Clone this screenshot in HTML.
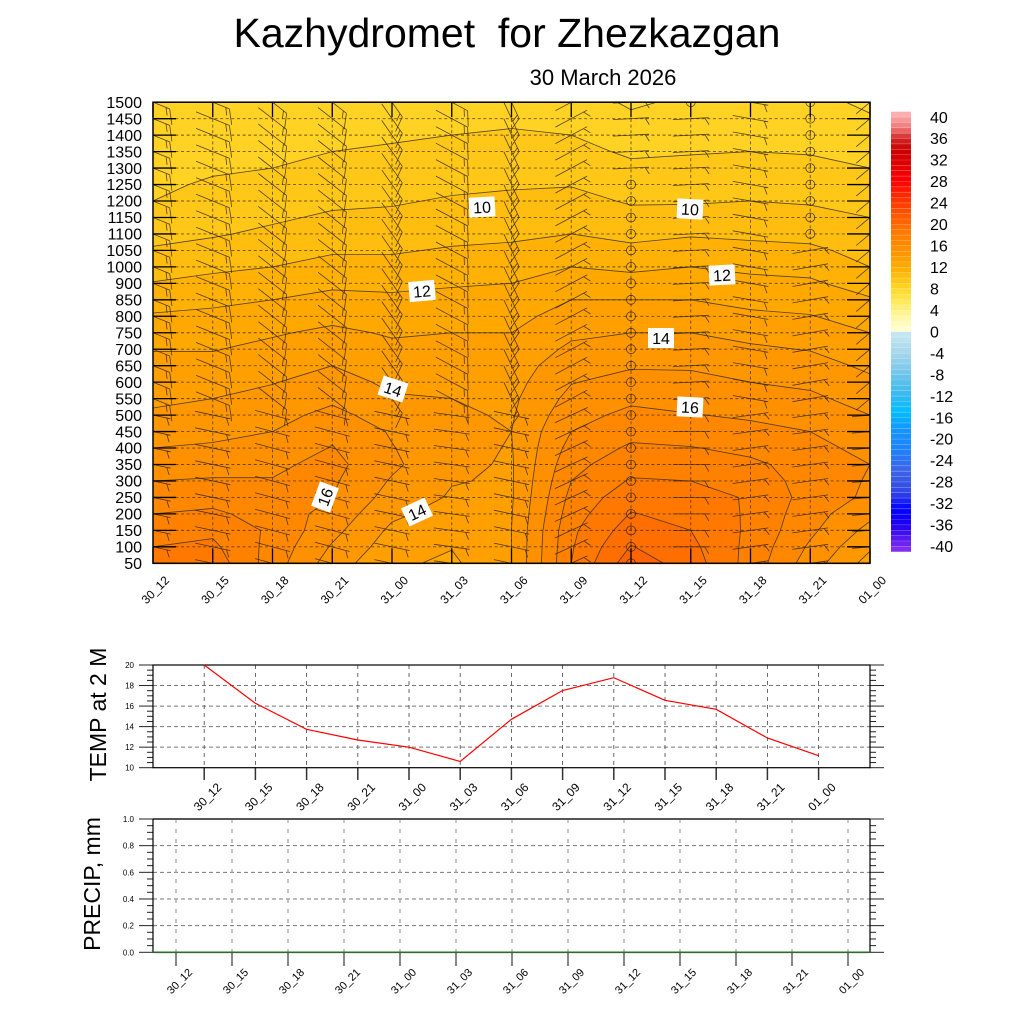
<!DOCTYPE html>
<html><head><meta charset="utf-8">
<style>
html,body{margin:0;padding:0;background:#fff;}
#wrap{position:relative;width:1024px;height:1024px;overflow:hidden;background:#fff;}
canvas,svg{position:absolute;left:0;top:0;}
text{font-family:"Liberation Sans",Arial,sans-serif;fill:#000;}
</style></head><body>
<div id="wrap">
<canvas id="cv" width="1024" height="1024"></canvas>
<svg id="sv" width="1024" height="1024" viewBox="0 0 1024 1024">
<defs><clipPath id="cp"><rect x="153" y="102.2" width="717" height="461.1"/></clipPath></defs>
<g id="cbar"></g>
<g id="grid" clip-path="url(#cp)"></g>
<g id="cont" clip-path="url(#cp)"></g>
<g id="barbs" clip-path="url(#cp)"></g>
<g id="axes"></g>

<!-- contour labels -->
<g font-size="16">
<g transform="translate(482,207) rotate(-3)"><rect x="-13" y="-10" width="26" height="20" fill="#fff"/><text x="0" y="6" text-anchor="middle">10</text></g>
<g transform="translate(690,209) rotate(3)"><rect x="-13" y="-10" width="26" height="20" fill="#fff"/><text x="0" y="6" text-anchor="middle">10</text></g>
<g transform="translate(422,291) rotate(-5)"><rect x="-13" y="-10" width="26" height="20" fill="#fff"/><text x="0" y="6" text-anchor="middle">12</text></g>
<g transform="translate(722,275) rotate(-3)"><rect x="-13" y="-10" width="26" height="20" fill="#fff"/><text x="0" y="6" text-anchor="middle">12</text></g>
<g transform="translate(661,338)"><rect x="-13" y="-10" width="26" height="20" fill="#fff"/><text x="0" y="6" text-anchor="middle">14</text></g>
<g transform="translate(393,389) rotate(18)"><rect x="-13" y="-10" width="26" height="20" fill="#fff"/><text x="0" y="6" text-anchor="middle">14</text></g>
<g transform="translate(690,407) rotate(3)"><rect x="-13" y="-10" width="26" height="20" fill="#fff"/><text x="0" y="6" text-anchor="middle">16</text></g>
<g transform="translate(325,497) rotate(-70)"><rect x="-13" y="-10" width="26" height="20" fill="#fff"/><text x="0" y="6" text-anchor="middle">16</text></g>
<g transform="translate(417,512) rotate(-25)"><rect x="-13" y="-10" width="26" height="20" fill="#fff"/><text x="0" y="6" text-anchor="middle">14</text></g>
</g>

<!-- titles -->
<text x="507" y="47" font-size="41" text-anchor="middle" style="white-space:pre">Kazhydromet  for Zhezkazgan</text>
<text x="603" y="85" font-size="22" text-anchor="middle">30 March 2026</text>

<!-- main y labels -->
<g font-size="16" text-anchor="end">
<text x="142" y="569.0">50</text>
<text x="142" y="552.5">100</text>
<text x="142" y="536.1">150</text>
<text x="142" y="519.6">200</text>
<text x="142" y="503.1">250</text>
<text x="142" y="486.7">300</text>
<text x="142" y="470.2">350</text>
<text x="142" y="453.7">400</text>
<text x="142" y="437.3">450</text>
<text x="142" y="420.8">500</text>
<text x="142" y="404.3">550</text>
<text x="142" y="387.9">600</text>
<text x="142" y="371.4">650</text>
<text x="142" y="354.9">700</text>
<text x="142" y="338.4">750</text>
<text x="142" y="322.0">800</text>
<text x="142" y="305.5">850</text>
<text x="142" y="289.0">900</text>
<text x="142" y="272.6">1000</text>
<text x="142" y="256.1">1050</text>
<text x="142" y="239.6">1100</text>
<text x="142" y="223.2">1150</text>
<text x="142" y="206.7">1200</text>
<text x="142" y="190.2">1250</text>
<text x="142" y="173.8">1300</text>
<text x="142" y="157.3">1350</text>
<text x="142" y="140.8">1400</text>
<text x="142" y="124.3">1450</text>
<text x="142" y="107.9">1500</text>
</g>

<!-- main x labels -->
<g font-size="12" text-anchor="end">
<text transform="translate(170,581) rotate(-45)">30_12</text>
<text transform="translate(229.75,581) rotate(-45)">30_15</text>
<text transform="translate(289.5,581) rotate(-45)">30_18</text>
<text transform="translate(349.25,581) rotate(-45)">30_21</text>
<text transform="translate(409,581) rotate(-45)">31_00</text>
<text transform="translate(468.75,581) rotate(-45)">31_03</text>
<text transform="translate(528.5,581) rotate(-45)">31_06</text>
<text transform="translate(588.25,581) rotate(-45)">31_09</text>
<text transform="translate(648,581) rotate(-45)">31_12</text>
<text transform="translate(707.75,581) rotate(-45)">31_15</text>
<text transform="translate(767.5,581) rotate(-45)">31_18</text>
<text transform="translate(827.25,581) rotate(-45)">31_21</text>
<text transform="translate(887,581) rotate(-45)">01_00</text>
</g>

<!-- colorbar labels -->
<g font-size="16">
<text x="930" y="122.8">40</text>
<text x="930" y="144.2">36</text>
<text x="930" y="165.7">32</text>
<text x="930" y="187.2">28</text>
<text x="930" y="208.6">24</text>
<text x="930" y="230.1">20</text>
<text x="930" y="251.5">16</text>
<text x="930" y="273.0">12</text>
<text x="930" y="294.5">8</text>
<text x="930" y="315.9">4</text>
<text x="930" y="337.4">0</text>
<text x="930" y="358.9">-4</text>
<text x="930" y="380.3">-8</text>
<text x="930" y="401.8">-12</text>
<text x="930" y="423.3">-16</text>
<text x="930" y="444.7">-20</text>
<text x="930" y="466.2">-24</text>
<text x="930" y="487.6">-28</text>
<text x="930" y="509.1">-32</text>
<text x="930" y="530.6">-36</text>
<text x="930" y="552.0">-40</text>
</g>

<!-- temp chart -->
<g id="tchart"></g>
<polyline fill="none" stroke="#ff0000" stroke-width="1.2" points="204.2,665 255.4,703.3 306.6,729.3 357.8,740 409,747.2 460.2,761.5 511.4,719.3 562.6,690.5 613.8,677.7 665,700.3 716.2,709.3 767.4,738 818.6,755.7"/>
<g font-size="8" text-anchor="end">
<text x="134" y="770.7">10</text>
<text x="134" y="750.2">12</text>
<text x="134" y="729.6">14</text>
<text x="134" y="709.1">16</text>
<text x="134" y="688.5">18</text>
<text x="134" y="668">20</text>
</g>
<g font-size="12" text-anchor="end">
<text transform="translate(222.2,788) rotate(-45)">30_12</text>
<text transform="translate(273.4,788) rotate(-45)">30_15</text>
<text transform="translate(324.6,788) rotate(-45)">30_18</text>
<text transform="translate(375.8,788) rotate(-45)">30_21</text>
<text transform="translate(427,788) rotate(-45)">31_00</text>
<text transform="translate(478.2,788) rotate(-45)">31_03</text>
<text transform="translate(529.4,788) rotate(-45)">31_06</text>
<text transform="translate(580.6,788) rotate(-45)">31_09</text>
<text transform="translate(631.8,788) rotate(-45)">31_12</text>
<text transform="translate(683,788) rotate(-45)">31_15</text>
<text transform="translate(734.2,788) rotate(-45)">31_18</text>
<text transform="translate(785.4,788) rotate(-45)">31_21</text>
<text transform="translate(836.6,788) rotate(-45)">01_00</text>
</g>
<text transform="translate(106,714.5) rotate(-90)" font-size="23" text-anchor="middle">TEMP at 2 M</text>

<!-- precip chart -->
<g id="pchart"></g>
<g font-size="8" text-anchor="end">
<text x="134" y="955.3">0.0</text>
<text x="134" y="928.6">0.2</text>
<text x="134" y="902">0.4</text>
<text x="134" y="875.3">0.6</text>
<text x="134" y="848.7">0.8</text>
<text x="134" y="822">1.0</text>
</g>
<g font-size="11" text-anchor="end">
<text transform="translate(193,973) rotate(-45)">30_12</text>
<text transform="translate(249,973) rotate(-45)">30_15</text>
<text transform="translate(305,973) rotate(-45)">30_18</text>
<text transform="translate(361,973) rotate(-45)">30_21</text>
<text transform="translate(417,973) rotate(-45)">31_00</text>
<text transform="translate(473,973) rotate(-45)">31_03</text>
<text transform="translate(529,973) rotate(-45)">31_06</text>
<text transform="translate(585,973) rotate(-45)">31_09</text>
<text transform="translate(641,973) rotate(-45)">31_12</text>
<text transform="translate(697,973) rotate(-45)">31_15</text>
<text transform="translate(753,973) rotate(-45)">31_18</text>
<text transform="translate(809,973) rotate(-45)">31_21</text>
<text transform="translate(865,973) rotate(-45)">01_00</text>
</g>
<text transform="translate(100,884) rotate(-90)" font-size="23" text-anchor="middle">PRECIP, mm</text>
</svg>
</div>
<script>
(function(){
const X0=153,X1=870,Y0=102.2,Y1=563.3;
const DX=(X1-X0)/12,DY=(Y1-Y0)/28;
const prof=[
[18.5,17.5,16.5,15.5,14.5,13.8,13.3,12.6,11.6,10.5,9.7,9.0,8.7,8.4,8.1],
[18.6,17.8,16.6,15.6,14.7,14.0,13.3,12.6,11.8,10.8,9.9,9.3,8.9,8.6,8.3],
[16.5,16.8,16.3,15.8,15.0,14.3,13.6,12.9,12.0,11.0,10.2,9.5,9.0,8.7,8.4],
[14.5,15.3,16.0,16.3,15.8,14.8,14.0,13.2,12.3,11.3,10.5,9.8,9.2,8.8,8.5],
[13.2,13.8,14.6,15.2,14.9,14.1,13.5,12.9,12.2,11.3,10.5,9.9,9.3,8.9,8.5],
[12.8,13.3,13.9,14.2,14.3,14.0,13.6,13.0,12.3,11.5,10.7,10.1,9.5,9.0,8.6],
[14.0,14.0,13.9,13.9,14.0,13.8,13.5,13.0,12.4,11.6,10.8,10.2,9.6,9.1,8.6],
[18.0,17.8,17.3,16.7,16.0,15.3,14.6,13.8,13.0,12.0,11.0,10.3,9.6,9.0,8.5],
[20.6,19.5,18.6,17.6,16.7,15.8,14.9,14.0,13.0,11.8,10.7,9.9,9.2,8.5,7.85],
[19.5,19.0,18.4,17.6,16.5,15.6,14.9,14.0,13.0,12.0,10.9,9.9,9.2,8.7,8.2],
[17.6,17.8,17.9,17.2,16.3,15.4,14.6,13.7,12.7,11.8,10.8,10.0,9.3,8.7,8.3],
[15.5,16.2,16.6,16.6,16.0,15.2,14.4,13.5,12.6,11.7,10.7,9.9,9.2,8.7,8.3],
[13.6,14.7,15.8,16.0,15.4,14.6,13.8,13.0,12.1,11.0,10.3,9.7,9.0,8.4,7.8]];
const T=[];
for(let i=0;i<13;i++){T.push([]);for(let k=0;k<=28;k++){const j=k/2,lo=Math.floor(j),hi=Math.min(14,lo+1),f=j-lo;T[i].push(prof[i][lo]*(1-f)+prof[i][hi]*f);}}
const pos=[[0,255,255,215],[2,255,250,180],[4,255,242,135],[6,255,230,80],[8,255,215,40],[10,255,195,20],[12,255,172,0],[14,255,155,0],[18,255,125,0],[22,255,85,0],[25,255,45,0],[28,255,0,0],[31,225,0,0],[34,200,0,0],[36,210,40,40],[38,240,120,120],[41,255,185,185]];
const neg=[[-41,140,50,240],[-36,30,0,240],[-33,0,0,255],[-30,50,70,230],[-26,60,100,230],[-22,30,130,250],[-18,20,150,255],[-15,0,190,255],[-12,50,185,240],[-8,110,195,235],[-4,165,215,235],[0,200,232,245]];
function interp(st,t){if(t<=st[0][0])return st[0].slice(1);for(let j=1;j<st.length;j++){if(t<=st[j][0]){const a=st[j-1],b=st[j];const f=(t-a[0])/(b[0]-a[0]);return [0,1,2].map(c=>Math.round(a[c+1]+(b[c+1]-a[c+1])*f));}}return st[st.length-1].slice(1);}
function cmap(t){return t>=0?interp(pos,t):interp(neg,t);}
const cv=document.getElementById('cv'),ctx=cv.getContext('2d');
const ya=Math.floor(Y0),yb=Math.ceil(Y1),xa=X0,xb=X1;
const img=ctx.createImageData(xb-xa,yb-ya);
for(let y=ya;y<yb;y++){for(let x=xa;x<xb;x++){
 let u=(x+0.5-X0)/DX,v=(Y1-(y+0.5))/DY;
 u=Math.max(0,Math.min(12,u));v=Math.max(0,Math.min(28,v));
 let i=Math.min(11,Math.floor(u)),k=Math.min(27,Math.floor(v));
 const fu=u-i,fv=v-k;
 const t=T[i][k]*(1-fu)*(1-fv)+T[i+1][k]*fu*(1-fv)+T[i][k+1]*(1-fu)*fv+T[i+1][k+1]*fu*fv;
 const c=cmap(Math.floor(t)+0.5);
 const o=((y-ya)*(xb-xa)+(x-xa))*4;
 img.data[o]=c[0];img.data[o+1]=c[1];img.data[o+2]=c[2];img.data[o+3]=255;}}
ctx.putImageData(img,xa,ya);
let cb='';
for(let t=-41;t<=40;t++){const c=cmap(t+0.5);const y=331.7-(t+1)*5.366;
 cb+=`<rect x="891" y="${y.toFixed(2)}" width="20" height="5.4" fill="rgb(${c[0]},${c[1]},${c[2]})"/>`;}
for(let t=-40;t<=40;t++){const y=331.7-t*5.366;cb+=`<line x1="891" x2="911" y1="${y.toFixed(2)}" y2="${y.toFixed(2)}" stroke="#fff" stroke-opacity="0.3" stroke-width="0.6"/>`;}
document.getElementById('cbar').innerHTML=cb;
let g='';
for(let k=1;k<28;k++){const y=Y1-k*DY;g+=`<line x1="${X0}" x2="${X1}" y1="${y}" y2="${y}"/>`;}
for(let i=1;i<12;i++){const x=X0+i*DX;g+=`<line x1="${x}" x2="${x}" y1="${Y0}" y2="${Y1}"/>`;}
const gg=document.getElementById('grid');gg.setAttribute('stroke','#3a2a10');gg.setAttribute('stroke-width','0.9');gg.setAttribute('stroke-dasharray','3,2.6');gg.setAttribute('stroke-opacity','0.75');gg.innerHTML=g;
let d='';
function P(i,k){return [X0+i*DX,Y1-k*DY];}
for(let L=7;L<=21;L++){for(let i=0;i<12;i++)for(let k=0;k<28;k++){
 const c=[[i,k],[i+1,k],[i+1,k+1],[i,k+1]];const v=c.map(p=>T[p[0]][p[1]]);const pts=[];
 for(let e=0;e<4;e++){const a=e,b=(e+1)%4;if((v[a]<L)!=(v[b]<L)){const t=(L-v[a])/(v[b]-v[a]);const pa=P(c[a][0],c[a][1]),pb=P(c[b][0],c[b][1]);pts.push([pa[0]+(pb[0]-pa[0])*t,pa[1]+(pb[1]-pa[1])*t]);}}
 const f=q=>q[0].toFixed(1)+' '+q[1].toFixed(1);
 if(pts.length==2)d+=`M${f(pts[0])}L${f(pts[1])}`;
 else if(pts.length==4){const cen=(v[0]+v[1]+v[2]+v[3])/4;
  if((cen<L)==(v[0]<L)){d+=`M${f(pts[0])}L${f(pts[1])}M${f(pts[2])}L${f(pts[3])}`;}
  else{d+=`M${f(pts[3])}L${f(pts[0])}M${f(pts[1])}L${f(pts[2])}`;}}
}}
document.getElementById('cont').innerHTML=`<path d="${d}" fill="none" stroke="#3c3020" stroke-width="0.85" stroke-opacity="0.85"/>`;
function bp(i,k){
 if(i==8&&k<=23)return{calm:1};
 if(i==11&&k>=20)return{calm:1};
 if(i==9&&k==28)return{calm:1};
 if(k>=10){const a=[22,22,38,38,55,28,65,-28,-3,-3,10,-10,-40][i];
  if(i>=7)return{a:a,f:0,h:1};return{a:a,f:1,h:1};}
 return{a:[12,12,15,15,12,8,12,-25,0,0,-8,-8,-5][i],f:0,h:1};
}
let bd='',circ='';
for(let i=0;i<=12;i++)for(let k=0;k<=28;k++){
 const cx=X0+i*DX,cy=Y1-k*DY;const p=bp(i,k);
 if(p.calm){circ+=`<circle cx="${cx.toFixed(1)}" cy="${cy.toFixed(1)}" r="4.5"/>`;bd+=`M${cx.toFixed(1)} ${cy.toFixed(1)}L${cx.toFixed(1)} ${(cy-4.5).toFixed(1)}`;continue;}
 const a=p.a*Math.PI/180,ux=Math.cos(a),uy=Math.sin(a);
 const ex=cx+18*ux,ey=cy+18*uy;
 bd+=`M${(cx-18*ux).toFixed(1)} ${(cy-18*uy).toFixed(1)}L${ex.toFixed(1)} ${ey.toFixed(1)}`;
 const fa=a+60*Math.PI/180,fx=Math.cos(fa),fy=Math.sin(fa);
 let off=p.f?0:4;
 for(let n=0;n<p.f;n++){const bx=ex-off*ux,by=ey-off*uy;bd+=`M${bx.toFixed(1)} ${by.toFixed(1)}L${(bx+16*fx).toFixed(1)} ${(by+16*fy).toFixed(1)}`;off+=4;}
 for(let n=0;n<p.h;n++){const bx=ex-off*ux,by=ey-off*uy;bd+=`M${bx.toFixed(1)} ${by.toFixed(1)}L${(bx+8*fx).toFixed(1)} ${(by+8*fy).toFixed(1)}`;off+=4;}
}
document.getElementById('barbs').innerHTML=`<g fill="none" stroke="#2a2010" stroke-width="0.8" stroke-opacity="0.8"><path d="${bd}"/>${circ}</g>`;
let ax=`<rect x="${X0}" y="${Y0}" width="${X1-X0}" height="${Y1-Y0}" fill="none" stroke="#000" stroke-width="1.5"/>`;
for(let k=0;k<=28;k++){const y=(Y1-k*DY).toFixed(2);ax+=`<line x1="${X0}" x2="${X0+23}" y1="${y}" y2="${y}" stroke="#000" stroke-width="1.3"/><line x1="${X1-23}" x2="${X1}" y1="${y}" y2="${y}" stroke="#000" stroke-width="1.3"/>`;}
for(let i=0;i<=12;i++){const x=(X0+i*DX).toFixed(2);ax+=`<line x1="${x}" x2="${x}" y1="${Y0}" y2="${Y0+15}" stroke="#000" stroke-width="1.3"/><line x1="${x}" x2="${x}" y1="${Y1-15}" y2="${Y1}" stroke="#000" stroke-width="1.3"/>`;}
document.getElementById('axes').innerHTML=ax;
let tc='';
const tY=v=>767.7-(v-10)*10.27;
for(const v of [12,14,16,18]){tc+=`<line x1="153" x2="870" y1="${tY(v)}" y2="${tY(v)}" stroke="#777" stroke-width="1" stroke-dasharray="4,3"/>`;}
for(let i=0;i<13;i++){const x=153+51.2*(i+1);tc+=`<line x1="${x}" x2="${x}" y1="665" y2="767.7" stroke="#444" stroke-width="0.8" stroke-dasharray="4,4"/><line x1="${x}" x2="${x}" y1="767.7" y2="780" stroke="#333" stroke-width="1.5"/>`;}
for(let v=10;v<=20.01;v+=0.5){const y=tY(v);const maj=Math.abs(v%2)<0.01;const L=maj?14:6;
 tc+=`<line x1="${153-L}" x2="153" y1="${y}" y2="${y}" stroke="#222" stroke-width="1"/><line x1="870" x2="${870+L}" y1="${y}" y2="${y}" stroke="#222" stroke-width="1"/>`;}
tc+=`<rect x="153" y="665" width="717" height="102.7" fill="none" stroke="#000" stroke-width="1.2"/>`;
document.getElementById('tchart').innerHTML=tc;
let pc='';
const pY=v=>952.3-v*133.3;
for(const v of [0.2,0.4,0.6,0.8]){pc+=`<line x1="153" x2="870" y1="${pY(v)}" y2="${pY(v)}" stroke="#777" stroke-width="1" stroke-dasharray="4,3"/>`;}
for(let i=0;i<13;i++){const x=176+56*i;pc+=`<line x1="${x}" x2="${x}" y1="819" y2="952.3" stroke="#aaa" stroke-width="1.4" stroke-dasharray="4,6"/><line x1="${x}" x2="${x}" y1="952.3" y2="966" stroke="#888" stroke-width="2"/>`;}
for(let n=0;n<=20;n++){const v=n*0.05;const y=pY(v);const maj=n%4==0;const L=maj?14:6;
 pc+=`<line x1="${153-L}" x2="153" y1="${y}" y2="${y}" stroke="#222" stroke-width="1"/><line x1="870" x2="${870+L}" y1="${y}" y2="${y}" stroke="#222" stroke-width="1"/>`;}
pc+=`<line x1="153" x2="870" y1="819" y2="819" stroke="#555" stroke-width="2"/><line x1="153" x2="153" y1="819" y2="952.3" stroke="#000" stroke-width="1.2"/><line x1="870" x2="870" y1="819" y2="952.3" stroke="#000" stroke-width="1.2"/><line x1="153" x2="870" y1="952.3" y2="952.3" stroke="#2a6a2a" stroke-width="1.6"/>`;
document.getElementById('pchart').innerHTML=pc;
})();
</script>
</body></html>
